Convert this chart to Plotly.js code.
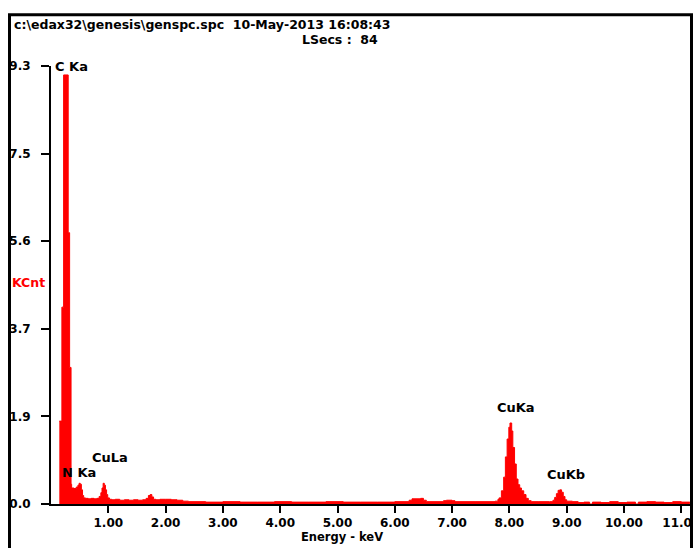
<!DOCTYPE html>
<html>
<head>
<meta charset="utf-8">
<script src="https://cdn.plot.ly/plotly-3.0.1.min.js"></script>
<style>
html,body{margin:0;padding:0;background:#fff;}
#chart{width:695px;height:548px;}
</style>
</head>
<body>
<div id="chart"></div>
<script>
// ---- data ----
const energy = [0.145,0.19,0.22,0.30,0.325,0.35,0.36,0.40,0.44,0.47,0.49,0.51,0.53,0.55,0.57,0.60,0.65,0.70,0.75,0.80,0.84,0.87,0.89,0.91,0.93,0.95,0.97,0.99,1.02,1.06,1.12,1.20,1.28,1.36,1.44,1.52,1.60,1.66,1.70,1.73,1.76,1.79,1.83,1.90,2.00,2.10,2.20,2.30,2.40,2.70,3.00,3.30,3.60,3.90,4.20,4.50,4.80,5.10,5.40,5.70,6.00,6.25,6.30,6.45,6.50,6.55,6.85,6.90,7.00,7.05,7.40,7.75,7.80,7.82,7.86,7.90,7.93,7.96,7.99,8.01,8.04,8.06,8.09,8.12,8.15,8.18,8.21,8.25,8.29,8.33,8.38,8.50,8.70,8.76,8.79,8.82,8.85,8.88,8.91,8.94,8.97,9.00,9.10,9.20,9.30,9.40,9.45,9.60,9.75,9.90,10.05,10.20,10.25,10.40,10.55,10.70,10.85,11.00,11.15];
const kcnt = [1.76,4.18,9.11,5.76,2.90,0.42,0.34,0.33,0.36,0.40,0.44,0.42,0.30,0.18,0.13,0.12,0.11,0.12,0.11,0.12,0.16,0.24,0.34,0.44,0.40,0.30,0.20,0.13,0.10,0.09,0.10,0.08,0.09,0.08,0.09,0.08,0.09,0.12,0.18,0.20,0.15,0.10,0.09,0.10,0.10,0.09,0.08,0.06,0.05,0.04,0.05,0.04,0.04,0.05,0.04,0.04,0.05,0.04,0.04,0.04,0.05,0.08,0.11,0.12,0.08,0.05,0.07,0.08,0.07,0.05,0.05,0.06,0.10,0.13,0.28,0.57,1.00,1.38,1.63,1.72,1.55,1.20,0.85,0.53,0.41,0.34,0.28,0.20,0.12,0.07,0.05,0.05,0.05,0.08,0.14,0.22,0.29,0.30,0.25,0.16,0.09,0.06,0.05,0.03,0.04,0.00,0.04,0.03,0.05,0.03,0.04,0.00,0.04,0.05,0.04,0.03,0.05,0.04,0.04];

const yTickVals = [0, 1.86, 3.72, 5.58, 7.44, 9.3];
const yTickText = ['0.0', '1.9', '3.7', '5.6', '7.5', '9.3'];
const xTickVals = [1, 2, 3, 4, 5, 6, 7, 8, 9, 10, 11];
const xTickText = ['1.00','2.00','3.00','4.00','5.00','6.00','7.00','8.00','9.00','10.00','11.00'];

const peakLabels = ['C Ka', 'N Ka', 'CuLa', 'CuKa', 'CuKb'];
const peakX = [0.035, 0.15, 1.03, 8.12, 8.99];
const peakY = [9.3, 0.66, 0.99, 2.05, 0.63];
const peakAnchor = ['left', 'left', 'center', 'center', 'center'];

const headerLine1 = 'c:\\edax32\\genesis\\genspc.spc\u00a0 10-May-2013 16:08:43';
const headerLine2 = 'LSecs :\u00a0 84';
const yLabel = 'KCnt';
const xLabel = 'Energy - keV';

// ---- layout helpers (pixel -> paper) ----
const L = 51, R = 5, T = 66, B = 44, W = 695, H = 548;
const pw = W - L - R, ph = H - T - B;
const px = x => (x - L) / pw;
const py = y => (H - B - y) / ph;

const FONT = 'DejaVu Sans';
const f = (size, color) => ({family: FONT, size: size, color: color || '#000', weight: 'bold'});

const annotations = peakLabels.map((t, i) => ({
  text: t, x: peakX[i], y: peakY[i], xref: 'x', yref: 'y',
  xanchor: peakAnchor[i], yanchor: 'middle', showarrow: false, font: f(13)
}));
annotations.push({text: headerLine1, x: px(12), y: py(25), xref: 'paper', yref: 'paper',
  xanchor: 'left', yanchor: 'middle', showarrow: false, font: f(12.5)});
annotations.push({text: headerLine2, x: px(300), y: py(39.5), xref: 'paper', yref: 'paper',
  xanchor: 'left', yanchor: 'middle', showarrow: false, font: f(12.5)});
annotations.push({text: yLabel, x: px(10), y: py(282), xref: 'paper', yref: 'paper',
  xanchor: 'left', yanchor: 'middle', showarrow: false, font: f(12.5, '#ff0000')});
annotations.push({text: xLabel, x: px(342), y: py(537), xref: 'paper', yref: 'paper',
  xanchor: 'center', yanchor: 'middle', showarrow: false, font: f(11.5)});

const trace = {
  x: energy, y: kcnt, type: 'scatter', mode: 'lines',
  line: {shape: 'hv', color: '#ff0000', width: 1},
  fill: 'tozeroy', fillcolor: '#ff0000', hoverinfo: 'skip'
};

const layout = {
  width: W, height: H,
  margin: {l: L, r: R, t: T, b: B, pad: 0},
  paper_bgcolor: '#fff', plot_bgcolor: '#fff',
  font: f(12),
  showlegend: false,
  xaxis: {
    range: [0, pw / 57.3], showgrid: false, zeroline: false,
    showline: true, linecolor: '#000', linewidth: 2,
    ticks: 'outside', ticklen: 7, tickwidth: 2, tickcolor: '#000',
    tickvals: xTickVals, ticktext: xTickText, tickfont: f(12),
    ticklabeloverflow: 'allow'
  },
  yaxis: {
    range: [0, 9.3], showgrid: false, zeroline: false,
    showline: true, linecolor: '#000', linewidth: 2,
    ticks: 'outside', ticklen: 8, tickwidth: 2, tickcolor: '#000',
    tickvals: yTickVals, ticktext: yTickText, tickfont: f(12),
    ticklabelstandoff: 8
  },
  annotations: annotations,
  shapes: [
    {type: 'rect', xref: 'paper', yref: 'paper', x0: px(692), x1: px(720), y0: py(600), y1: py(0),
     fillcolor: '#fff', line: {width: 0}, layer: 'above'},
    {type: 'rect', xref: 'paper', yref: 'paper', x0: px(9.5), x1: px(691.5), y0: py(570), y1: py(14.7),
     line: {color: '#000', width: 3}, fillcolor: 'rgba(0,0,0,0)', layer: 'above'}
  ]
};

Plotly.newPlot('chart', [trace], layout, {displayModeBar: false, staticPlot: true});
</script>
</body>
</html>
